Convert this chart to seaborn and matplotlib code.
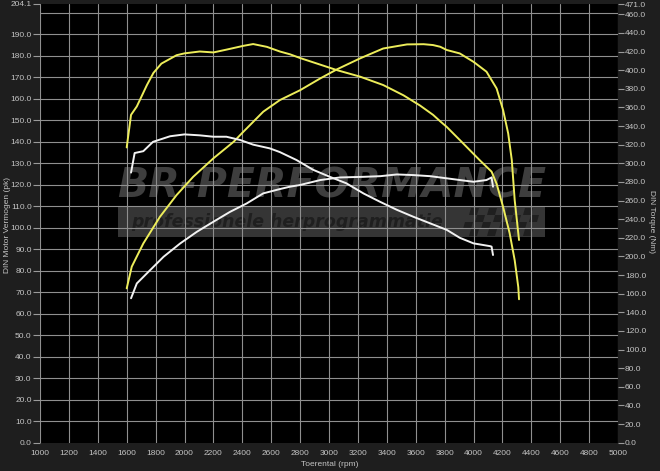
import numpy as np
import pandas as pd
import matplotlib
matplotlib.use("Agg")
import matplotlib.pyplot as plt
from matplotlib.patches import Rectangle, Polygon
import seaborn as sns

# ---------------- data ----------------
tq_tuned_rpm = [1600, 1630, 1670, 1740, 1785, 1840, 1945, 2000, 2105, 2200, 2290, 2405, 2475,
                2570, 2660, 2730, 2800, 3055, 3215, 3375, 3515, 3630, 3720, 3770, 3815, 3905,
                4045, 4125, 4160, 4205, 4250, 4285, 4310, 4315]
tq_tuned = [317, 352, 361, 384, 397, 407, 416, 418, 420, 419, 422, 426, 428,
            425, 420, 417, 413, 400, 393, 384, 373, 362, 352, 345, 339, 325,
            303, 291, 278, 253, 225, 196, 167, 154]

pw_tuned_rpm = [1600, 1635, 1715, 1830, 1945, 2060, 2200, 2340, 2405, 2545, 2660, 2730, 2800,
                2940, 3055, 3215, 3375, 3540, 3655, 3720, 3770, 3815, 3905, 4000, 4090, 4160,
                4205, 4240, 4265, 4285, 4315]
pw_tuned = [71.8, 81.9, 92.7, 105.1, 115.2, 123.7, 132.3, 140.0, 144.5, 154.0, 159.4, 161.7, 164.0,
            169.5, 173.7, 178.8, 183.4, 185.3, 185.4, 185.0, 184.2, 182.7, 181.1, 177.2, 172.6, 164.8,
            154.7, 143.9, 131.5, 112.9, 94.3]

tq_stock_rpm = [1630, 1655, 1715, 1782, 1900, 2000, 2105, 2200, 2290, 2385, 2475, 2590, 2660,
                2775, 2890, 3005, 3120, 3240, 3355, 3470, 3585, 3700, 3815, 3905, 4000, 4115,
                4125, 4135]
tq_stock = [290, 311, 313, 323, 329, 331, 330, 328.5, 328.5, 325, 320, 316, 312,
            303.5, 293, 285.5, 278.5, 267.5, 258.5, 250, 242.5, 235.5, 228.5, 220, 214, 211,
            210.5, 201.5]

pw_stock_rpm = [1630, 1670, 1740, 1855, 1970, 2085, 2200, 2315, 2430, 2545, 2660, 2730, 2800,
                2940, 3075, 3240, 3355, 3470, 3585, 3700, 3815, 3905, 4000, 4090, 4125, 4135]
pw_stock = [67.2, 74.1, 78.8, 86.5, 92.7, 98.1, 102.8, 107.4, 111.3, 116.0, 118.0, 119.1, 119.9,
            122.2, 123.4, 123.7, 124.0, 124.8, 124.5, 124.0, 123.0, 122.2, 121.4, 122.2, 123.4, 119.1]

x_ticks = list(range(1000, 5001, 200))
left_ticks = [v for v in range(0, 191, 10)] + [204.1]
left_grid = list(range(10, 201, 10))
right_ticks = [v for v in range(0, 461, 20)] + [471.0]

# ---------------- style ----------------
sns.set_theme(style="dark")
plt.rcParams["font.family"] = ["Liberation Sans", "DejaVu Sans"]

W, H = 660, 471
fig = plt.figure(figsize=(W / 100, H / 100), dpi=100)
fig.patch.set_facecolor("#1e1e1e")

L, R, T, B = 40, 618, 4, 442.7
ax = fig.add_axes([L / W, 1 - B / H, (R - L) / W, (B - T) / H])
ax.set_facecolor("#000000")
ax2 = ax.twinx()

TXT = "#c4c4c4"
GRID = "#8f8f8f"
YEL = "#eded5a"
WHT = "#f2f2f2"

ax.set_xlim(1000, 5000)
ax.set_ylim(0, 204.1)
ax2.set_ylim(0, 471)

# ticks & grid
ax.set_xticks(x_ticks)
ax.set_xticklabels([str(v) for v in x_ticks])
ax.set_yticks(left_ticks)
ax.set_yticklabels([f"{v:.1f}" for v in left_ticks])
ax.grid(False)
ax.grid(True, which="major", axis="x", color=GRID, lw=0.8, zorder=0.5)
for g in left_grid:
    ax.axhline(g, color=GRID, lw=0.8, zorder=0.5)
ax.tick_params(axis="y", which="major", length=5, width=0.8, color="#9a9a9a",
               labelsize=6, labelcolor=TXT, pad=1)
ax.tick_params(axis="x", which="major", length=0, labelsize=6, labelcolor=TXT, pad=5)
ax.set_axisbelow(True)

ax2.set_yticks(right_ticks)
ax2.set_yticklabels([f"{v:.1f}" for v in right_ticks])
ax2.tick_params(axis="y", length=4, width=0.8, color="#9a9a9a", labelsize=6,
                labelcolor=TXT, pad=1)
ax2.grid(False)
for a in (ax, ax2):
    for s in a.spines.values():
        s.set_visible(False)
ax2.patch.set_visible(False)

# ---------------- watermark (behind the grid) ----------------
ax.add_patch(Rectangle((118 / W, 1 - 237 / H), (545 - 118) / W, 30 / H,
                       transform=fig.transFigure, facecolor="#353535",
                       edgecolor="none", zorder=0.2, clip_on=False))
wm_kw = dict(transform=fig.transFigure, family="DejaVu Sans", weight="bold",
             style="oblique", zorder=0.3)
ax.text(332 / W, 1 - 186 / H, "BR-PERFORMANCE", fontsize=29.5, color="#3e3e3e",
        ha="center", va="center", **wm_kw)
ax.text(287 / W, 1 - 222 / H, "professionele herprogrammatie", fontsize=12.5,
        color="#1f1f1f", ha="center", va="center", **wm_kw)
for i in range(8):
    for j in range(4):
        if (i + j) % 2 == 0:
            x0 = 462 + i * 9 + (3 - j) * 3
            y0 = 208 + j * 7
            poly = [(x0, y0), (x0 + 8, y0), (x0 + 6, y0 + 7), (x0 - 2, y0 + 7)]
            ax.add_patch(Polygon([(px / W, 1 - py / H) for px, py in poly],
                                 closed=True, transform=fig.transFigure,
                                 facecolor="#1f1f1f", edgecolor="none", zorder=0.3))

# ---------------- curves ----------------
df_tq_tuned = pd.DataFrame({"rpm": tq_tuned_rpm, "val": tq_tuned})
df_tq_stock = pd.DataFrame({"rpm": tq_stock_rpm, "val": tq_stock})
df_pw_tuned = pd.DataFrame({"rpm": pw_tuned_rpm, "val": pw_tuned})
df_pw_stock = pd.DataFrame({"rpm": pw_stock_rpm, "val": pw_stock})

sns.lineplot(data=df_pw_stock, x="rpm", y="val", ax=ax, color=WHT, lw=1.4,
             sort=False, estimator=None, zorder=3)
sns.lineplot(data=df_pw_tuned, x="rpm", y="val", ax=ax, color=YEL, lw=1.4,
             sort=False, estimator=None, zorder=3)
sns.lineplot(data=df_tq_stock, x="rpm", y="val", ax=ax2, color=WHT, lw=1.4,
             sort=False, estimator=None, zorder=3)
sns.lineplot(data=df_tq_tuned, x="rpm", y="val", ax=ax2, color=YEL, lw=1.4,
             sort=False, estimator=None, zorder=3)

ax.set_xlabel("")
ax.set_ylabel("")
ax2.set_ylabel("")
ax.set_xlim(1000, 5000)
ax.set_ylim(0, 204.1)
ax2.set_ylim(0, 471)

fig.text(330 / W, 1 - 465 / H, "Toerental (rpm)", fontsize=6, color=TXT,
         ha="center", va="center")
fig.text(8 / W, 1 - 225 / H, "DIN Motor Vermogen (pk)", fontsize=6, color=TXT,
         ha="center", va="center", rotation=90)
fig.text(651 / W, 1 - 222 / H, "DIN Torque (Nm)", fontsize=6, color=TXT,
         ha="center", va="center", rotation=270)

fig.savefig("out.png", dpi=100, facecolor=fig.get_facecolor())
